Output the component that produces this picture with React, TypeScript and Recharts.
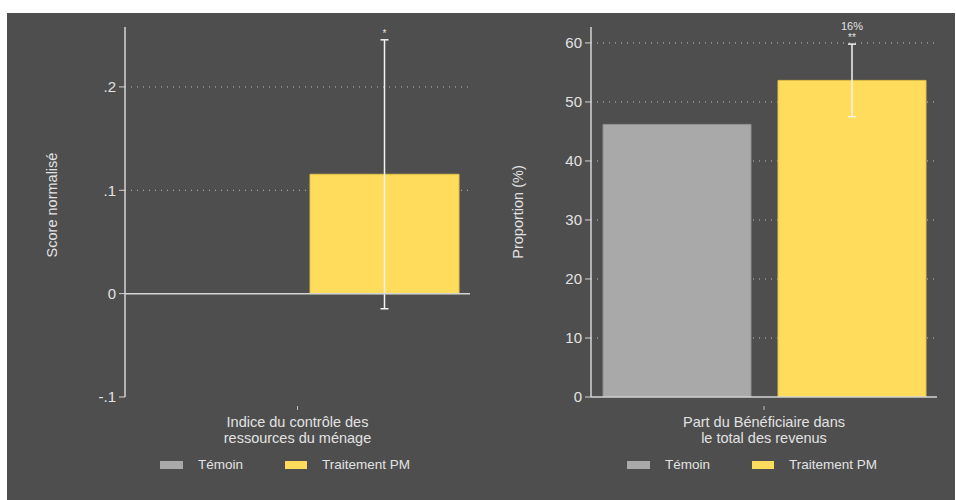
import { BarChart, Bar, XAxis, YAxis, CartesianGrid, ReferenceLine, ErrorBar, LabelList } from 'recharts'

// left panel: normalised score
const scoreCategory = ['Indice du contrôle des', 'ressources du ménage']
const scoreTemoin = [0]
const scoreTraitement = [0.1155]
const scoreErr = [0.1301]
const scoreStars = ['*']
const scoreNotes = ['']
const scoreTicks = [-0.1, 0, 0.1, 0.2]
const scoreTickLabels = ['-.1', '0', '.1', '.2']

// right panel: share of income
const partCategory = ['Part du Bénéficiaire dans', 'le total des revenus']
const partTemoin = [46.2]
const partTraitement = [53.65]
const partErr = [6.15]
const partStars = ['**']
const partNotes = ['16%']
const partTicks = [0, 10, 20, 30, 40, 50, 60]
const partTickLabels = ['0', '10', '20', '30', '40', '50', '60']

const seriesNames = ['Témoin', 'Traitement PM']

const BG = '#4e4e4e'
const GREY = '#a9a9a9'
const YELLOW = '#ffdc5c'
const TXT = '#e2e2e2'
const AXIS = '#d4d4d4'
const FONT = '"Liberation Sans", Arial, sans-serif'

interface PanelProps {
  category: string[]
  temoin: number[]
  traitement: number[]
  err: number[]
  stars: string[]
  notes: string[]
  ticks: number[]
  tickLabels: string[]
  domain: [number, number]
  grid: number[]
  yLabel: string
  marginLeft: number
  marginRight: number
  barSize: number
  barGap: number
  legendLeft: number
  labelShift: number
}

function XTick(props: any) {
  const { x, y, lines } = props
  return (
    <g>
      <line x1={x} x2={x} y1={y + 9} y2={y + 13} stroke="#bdbdbd" />
      <text x={x} y={y + 30} textAnchor="middle" fill={TXT} fontSize={14.5} fontFamily={FONT}>
        {lines.map((l: string, i: number) => (
          <tspan key={i} x={x} dy={i === 0 ? 0 : 15.5}>{l}</tspan>
        ))}
      </text>
    </g>
  )
}

function Panel(p: PanelProps) {
  const data = p.temoin.map((t, i) => ({
    name: p.category.join(' '),
    temoin: t,
    traitement: p.traitement[i],
    err: p.err[i],
  }))

  const renderStars = (props: any) => {
    const vb = props.viewBox || props
    const { x, y, width, height } = vb
    const i = props.index ?? 0
    const v = p.traitement[i]
    const top = y - (p.err[i] * height) / v
    const cx = x + width / 2
    return (
      <g>
        {p.notes[i] ? (
          <text x={cx} y={top - 14} textAnchor="middle" fill={TXT} fontSize={11} fontFamily={FONT}>{p.notes[i]}</text>
        ) : null}
        <text x={cx} y={top - 3} textAnchor="middle" fill={TXT} fontSize={10} fontFamily={FONT}>{p.stars[i]}</text>
      </g>
    )
  }

  return (
    <div style={{ position: 'relative', width: 474, height: 487 }}>
      <BarChart
        width={474}
        height={487}
        data={data}
        margin={{ top: 14, right: p.marginRight, bottom: 63, left: p.marginLeft }}
        barSize={p.barSize}
        barGap={p.barGap}
      >
        <CartesianGrid vertical={false} horizontalValues={p.grid} stroke="#bcbcbc" strokeDasharray="1 5" />
        <XAxis
          dataKey="name"
          axisLine={false}
          tickLine={false}
          tickSize={0}
          tickMargin={0}
          height={40}
          tick={(tp: any) => <XTick {...tp} lines={p.category} />}
        />
        <YAxis
          width={60}
          domain={p.domain}
          ticks={p.ticks}
          allowDataOverflow
          tickFormatter={(v: number) => p.tickLabels[p.ticks.indexOf(v)] ?? String(v)}
          axisLine={{ stroke: AXIS, strokeWidth: 1.5 }}
          tickLine={{ stroke: AXIS }}
          tickSize={6}
          tickMargin={3}
          tick={{ fill: TXT, fontSize: 15, fontFamily: FONT }}
          label={{
            content: (lp: any) => {
              const vb = lp.viewBox
              const cx = vb.x + vb.width - 73
              const cy = vb.y + vb.height / 2 + p.labelShift
              return (
                <text
                  transform={`translate(${cx}, ${cy}) rotate(-90)`}
                  textAnchor="middle"
                  dominantBaseline="central"
                  fill={TXT}
                  fontSize={14.5}
                  fontFamily={FONT}
                >
                  {p.yLabel}
                </text>
              )
            },
          }}
        />
        <Bar dataKey="temoin" fill={GREY} stroke="#8e8e8e" strokeWidth={1} isAnimationActive={false} />
        <Bar dataKey="traitement" fill={YELLOW} stroke="#e2c147" strokeWidth={1} isAnimationActive={false}>
          <ErrorBar dataKey="err" width={4} stroke="#f2f2f2" strokeWidth={1.5} isAnimationActive={false} />
          <LabelList dataKey="traitement" content={renderStars} />
        </Bar>
        <ReferenceLine y={0} stroke={AXIS} strokeWidth={1.5} />
      </BarChart>
      <div
        style={{
          position: 'absolute',
          left: p.legendLeft,
          top: 444,
          display: 'flex',
          fontFamily: FONT,
          fontSize: 13.5,
          lineHeight: '16px',
          color: TXT,
          whiteSpace: 'nowrap',
        }}
      >
        {seriesNames.map((n, i) => (
          <div key={n} style={{ display: 'flex', alignItems: 'center', width: 125, flexShrink: 0 }}>
            <span style={{ display: 'inline-block', width: 23, height: 8, background: i === 0 ? GREY : YELLOW, marginRight: 15 }} />
            <span>{n}</span>
          </div>
        ))}
      </div>
    </div>
  )
}

export default function App() {
  return (
    <div style={{ position: 'absolute', left: 7, top: 13, width: 948, height: 487, background: BG, display: 'flex' }}>
      <Panel
        category={scoreCategory}
        temoin={scoreTemoin}
        traitement={scoreTraitement}
        err={scoreErr}
        stars={scoreStars}
        notes={scoreNotes}
        ticks={scoreTicks}
        tickLabels={scoreTickLabels}
        domain={[-0.1, 0.258]}
        grid={[0.1, 0.2]}
        yLabel="Score normalisé"
        marginLeft={58}
        marginRight={11}
        barSize={149}
        barGap={25}
        legendLeft={153}
        labelShift={-7}
      />
      <Panel
        category={partCategory}
        temoin={partTemoin}
        traitement={partTraitement}
        err={partErr}
        stars={partStars}
        notes={partNotes}
        ticks={partTicks}
        tickLabels={partTickLabels}
        domain={[0, 62.7]}
        grid={[10, 20, 30, 40, 50, 60]}
        yLabel="Proportion (%)"
        marginLeft={50}
        marginRight={18}
        barSize={148}
        barGap={27}
        legendLeft={146}
        labelShift={0}
      />
    </div>
  )
}
